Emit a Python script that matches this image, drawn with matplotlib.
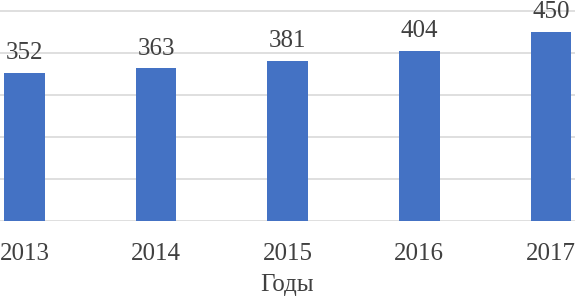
import numpy as np
import matplotlib.pyplot as plt

plt.rcParams['font.family'] = ['Liberation Serif', 'DejaVu Serif']

years = ["2013", "2014", "2015", "2016", "2017"]
values = [352, 363, 381, 404, 450]

fig = plt.figure(figsize=(5.75, 2.97), dpi=100)
ax = fig.add_axes([0, 1 - 221 / 297, 1, 221 / 297])

x = np.arange(len(years))
ax.bar(x, values, width=0.31, color="#4472C4", zorder=3)

# подписи значений над столбцами
for xi, v in zip(x, values):
    ax.annotate(str(v), (xi, v), xytext=(0, 10), textcoords="offset points",
                ha="center", va="baseline", fontsize=18, color="#404040")

ax.set_xlim(-0.186, 4.183)
ax.set_ylim(0, 526)
ax.set_yticks([0, 100, 200, 300, 400, 500])
ax.yaxis.grid(True, color="#D9D9D9", linewidth=1.2, zorder=0)
ax.tick_params(axis="y", left=False, labelleft=False)
ax.tick_params(axis="x", length=0, pad=16, labelsize=18, labelcolor="#404040")
ax.set_xticks(x)
ax.set_xticklabels(years)
for s in ax.spines.values():
    s.set_visible(False)
ax.set_xlabel("Годы", fontsize=18, color="#404040", labelpad=6)

fig.savefig("out.png", dpi=100)
